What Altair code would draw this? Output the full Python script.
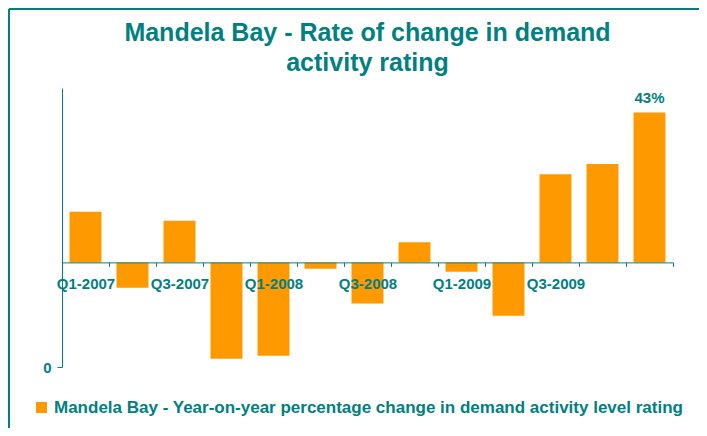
import altair as alt
import pandas as pd

quarters = ["Q1-2007", "Q2-2007", "Q3-2007", "Q4-2007", "Q1-2008", "Q2-2008", "Q3-2008",
            "Q4-2008", "Q1-2009", "Q2-2009", "Q3-2009", "Q4-2009", "Q1-2010"]
values = [14.5, -7.3, 11.9, -27.6, -26.8, -1.8, -11.8, 5.8, -2.7, -15.3, 25.3, 28.2, 43.0]
bar_labels = ["", "", "", "", "", "", "", "", "", "", "", "", "43%"]
shown_ticks = ["Q1-2007", "Q3-2007", "Q1-2008", "Q3-2008", "Q1-2009", "Q3-2009"]
series_name = "Mandela Bay - Year-on-year percentage change in demand activity level rating"

TEAL = "#008080"
ORANGE = "#FF9900"
FONT = "Liberation Sans"

df = pd.DataFrame({"quarter": quarters, "value": values, "label": bar_labels,
                   "series": [series_name] * len(quarters)})

xscale = alt.Scale(domain=quarters, paddingInner=0, paddingOuter=0)
yscale = alt.Scale(domain=[-30, 50], nice=False, zero=False)

label_expr = "indexof(" + str(shown_ticks).replace('"', "'") + ", datum.value) >= 0 ? datum.label : ''"

bars = alt.Chart(df).mark_bar(width=alt.RelativeBandSize(0.68), color=ORANGE).encode(
    x=alt.X("quarter:N", scale=xscale, sort=quarters, title=None,
            axis=alt.Axis(offset=-104.6, tickBand="extent", labelExpr=label_expr, labelAngle=0,
                          labelFont=FONT, labelFontSize=15, labelFontWeight="bold", labelColor=TEAL,
                          domainColor=TEAL, tickColor=TEAL, tickSize=4, labelPadding=10,
                          zindex=1, labelOverlap=False)),
    y=alt.Y("value:Q", scale=yscale, title=None,
            axis=alt.Axis(values=[-30], labelExpr="'0'", grid=False, domainColor=TEAL,
                          tickColor=TEAL, tickSize=5, labelPadding=6, labelFont=FONT,
                          labelFontSize=15, labelFontWeight="bold", labelColor=TEAL, zindex=1)),
    color=alt.Color("series:N", scale=alt.Scale(range=[ORANGE]),
                    legend=alt.Legend(orient="none", legendX=-29, legendY=311, title=None,
                                      symbolType="square", symbolSize=121, symbolStrokeWidth=0,
                                      labelFont=FONT, labelFontSize=17, labelFontWeight="bold",
                                      labelColor=TEAL, labelLimit=800, padding=0, labelOffset=4)),
)

text = alt.Chart(df).mark_text(dy=-14, font=FONT, fontSize=15, fontWeight="bold", color=TEAL).encode(
    x=alt.X("quarter:N", scale=xscale, sort=quarters),
    y=alt.Y("value:Q", scale=yscale),
    text="label:N",
)

frame_df = pd.DataFrame({"k": [0]})
top_line = alt.Chart(frame_df).mark_rule(color=TEAL, strokeWidth=2).encode(
    x=alt.value(-53), x2=alt.value(640), y=alt.value(-79))
left_line = alt.Chart(frame_df).mark_rule(color=TEAL, strokeWidth=2).encode(
    x=alt.value(-53), y=alt.value(-79), y2=alt.value(345))

chart = alt.layer(bars, text, top_line, left_line).properties(
    width=611, height=279,
    title=alt.Title(["Mandela Bay - Rate of change in demand", "activity rating"],
                    font=FONT, fontSize=25, fontWeight="bold", color=TEAL,
                    anchor="middle", lineHeight=30, offset=0, dy=68, frame="group"),
    autosize=alt.AutoSizeParams(type="none"),
    padding={"left": 54, "top": 80, "right": 26, "bottom": 61},
).configure_view(stroke=None)

chart.save("out.html", embed_options={"renderer": "svg", "actions": False})
